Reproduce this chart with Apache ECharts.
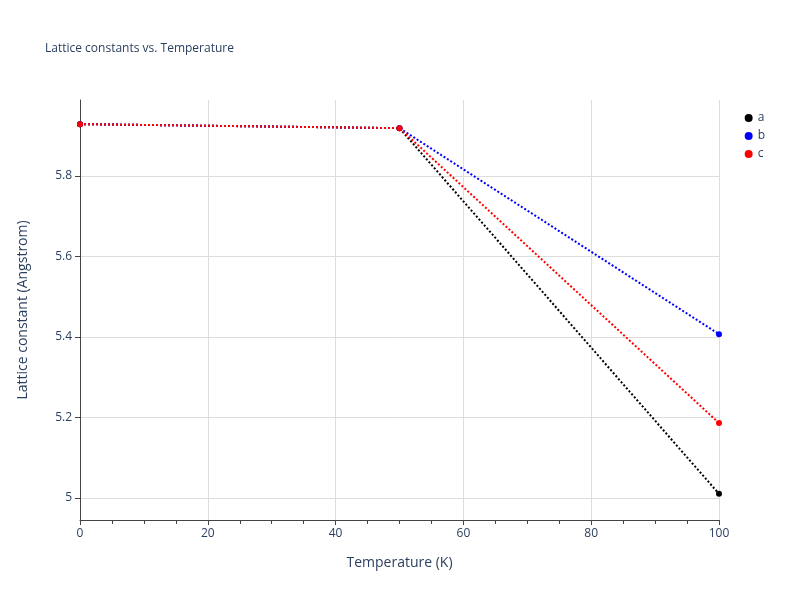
<!DOCTYPE html>
<html>
<head>
<meta charset="utf-8">
<script src="https://cdn.jsdelivr.net/npm/echarts@6/dist/echarts.min.js"></script>
<style>html,body{margin:0;padding:0;background:#fff}#chart{width:800px;height:600px}</style>
</head>
<body>
<div id="chart"></div>
<script>
const temperatures = [0, 50, 100];
const latticeA = [5.929, 5.919, 5.010];
const latticeB = [5.929, 5.919, 5.407];
const latticeC = [5.929, 5.919, 5.186];
const yTicks = [5, 5.2, 5.4, 5.6, 5.8];

const chart = echarts.init(document.getElementById('chart'));
const txt = '#2a3f5f';

function makeSeries(name, color, values) {
  return {
    name: name,
    type: 'line',
    data: temperatures.map((t, i) => [t, values[i]]),
    symbol: 'circle',
    symbolSize: 6,
    itemStyle: { color: color },
    lineStyle: { color: color, type: 'dotted', width: 2 },
    emphasis: { disabled: true },
    animation: false
  };
}

chart.setOption({
  title: {
    text: 'Lattice constants vs. Temperature',
    left: 40, top: 38,
    textStyle: { fontFamily: 'Open Sans', fontSize: 12, fontWeight: 'normal', color: txt }
  },
  legend: {
    orient: 'vertical', right: 30, top: 107, itemGap: 6,
    icon: 'circle', itemWidth: 8, itemHeight: 8,
    textStyle: { fontFamily: 'Open Sans', fontSize: 12, color: txt },
    data: ['a', 'b', 'c']
  },
  grid: { left: 80, right: 81, top: 100, bottom: 80 },
  xAxis: {
    type: 'value', min: 0, max: 100, interval: 20,
    name: 'Temperature (K)', nameLocation: 'middle', nameGap: 36,
    nameTextStyle: { fontFamily: 'Open Sans', fontSize: 14, color: txt },
    axisLine: { show: true, onZero: false, lineStyle: { color: '#444' } },
    axisTick: { show: true, length: 5, lineStyle: { color: '#444' } },
    minorTick: { show: true, splitNumber: 4, length: 4, lineStyle: { color: '#444' } },
    axisLabel: { fontFamily: 'Open Sans', fontSize: 12, color: txt, showMinLabel: true, showMaxLabel: true },
    splitLine: { show: true, lineStyle: { color: '#ddd' } }
  },
  yAxis: {
    type: 'value', min: 4.945, max: 5.989,
    name: 'Lattice constant (Angstrom)', nameLocation: 'middle', nameGap: 50,
    nameTextStyle: { fontFamily: 'Open Sans', fontSize: 14, color: txt },
    axisLine: { show: true, onZero: false, lineStyle: { color: '#444' } },
    axisTick: { show: true, length: 5, customValues: yTicks, lineStyle: { color: '#444' } },
    axisLabel: { fontFamily: 'Open Sans', fontSize: 12, color: txt, customValues: yTicks,
      formatter: v => String(+v.toFixed(1)) },
    splitLine: { show: true, lineStyle: { color: '#ddd' } }
  },
  series: [
    makeSeries('a', '#000000', latticeA),
    makeSeries('b', '#0000ff', latticeB),
    makeSeries('c', '#ff0000', latticeC)
  ]
});
</script>
</body>
</html>
